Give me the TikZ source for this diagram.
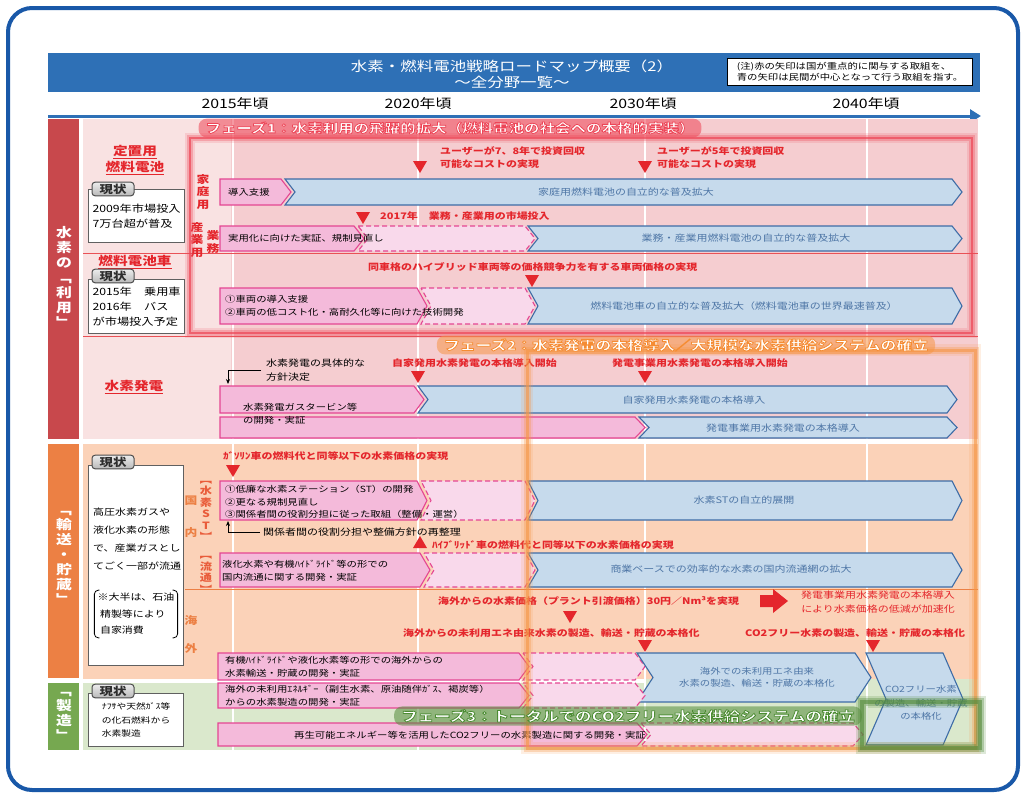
\documentclass[tikz,border=0pt]{standalone}
\usepackage{fontspec}
\setmainfont{Noto Sans CJK JP}[FakeStretch=1.22]
\usetikzlibrary{arrows.meta}

\definecolor{tblue}{RGB}{46,112,182}
\definecolor{fblue}{RGB}{25,88,168}
\definecolor{mred}{RGB}{228,38,44}
\definecolor{useband}{RGB}{200,72,76}
\definecolor{usebg}{RGB}{245,205,208}
\definecolor{uselight}{RGB}{249,226,226}
\definecolor{trband}{RGB}{236,128,68}
\definecolor{trbg}{RGB}{251,210,184}
\definecolor{mfband}{RGB}{118,168,80}
\definecolor{mfbg}{RGB}{218,232,204}
\definecolor{pkfill}{RGB}{244,186,218}
\definecolor{pkline}{RGB}{228,70,146}
\definecolor{blfill}{RGB}{198,218,236}
\definecolor{blline}{RGB}{62,108,166}
\definecolor{bltext}{RGB}{78,118,166}
\definecolor{phred}{RGB}{238,70,86}
\definecolor{phorange}{RGB}{246,150,70}
\definecolor{phgreen}{RGB}{84,140,60}

% chevron bars: [depth] style, x left, x tip, y top, y bottom
\newcommand{\chev}[6][10]{\draw[#2] (#3,#5) -- ({#4-#1},#5) -- (#4,{(#5+#6)/2}) -- ({#4-#1},#6) -- (#3,#6) -- ({#3+#1},{(#5+#6)/2}) -- cycle;}
\newcommand{\chevflat}[5]{\draw[#1] (#2,#4) -- ({#3-10},#4) -- (#3,{(#4+#5)/2}) -- ({#3-10},#5) -- (#2,#5) -- cycle;}
\newcommand{\downmark}[2]{\fill[mred] ({#1-7},{#2-6}) -- ({#1+7},{#2-6}) -- (#1,{#2+6}) -- cycle;}
\newcommand{\upmark}[2]{\fill[mred] ({#1-7},{#2+6}) -- ({#1+7},{#2+6}) -- (#1,{#2-6}) -- cycle;}
% white letters with a coloured rim (stroke colour of the emboldened text)
\newcommand{\rimtext}[2]{\addfontfeature{FakeBold=6}\special{pdf:literal direct #1 RG}#2}

\begin{document}
\begin{tikzpicture}[x=1pt, y=-1pt,
    secband/.style={inner sep=0pt, text=white, align=center, font=\bfseries\fontsize{13}{15}\selectfont},
    pinkbar/.style={draw=pkline, fill=pkfill, line width=1.1pt},
    pinkdash/.style={draw=pkline, fill=pkfill!55, line width=1.1pt, dash pattern=on 5pt off 3pt},
    bluebar/.style={draw=blline, fill=blfill, line width=1.1pt},
    pinktext/.style={inner sep=0pt, anchor=west, align=left, font=\fontsize{8.5}{13}\selectfont},
    bluetext/.style={inner sep=0pt, text=bltext, align=center, font=\fontsize{9}{13}\selectfont},
    redlabel/.style={inner sep=0pt, text=mred, anchor=west, align=left, font=\bfseries\fontsize{9}{13}\selectfont},
    statusbox/.style={draw=gray!75!black, fill=white, line width=1.2pt, anchor=north west, minimum width=95pt, inner sep=4pt, align=left},
    statustab/.style={draw=gray!60!black, top color=gray!15, bottom color=gray!55, rounded corners=3pt, line width=1pt, inner sep=1.5pt, minimum width=42pt, text=gray!35!black, font=\bfseries\fontsize{11}{12}\selectfont},
    toplabel/.style={inner sep=0pt, text=mred, align=center, font=\bfseries\fontsize{12}{16}\selectfont},
    vlabel/.style={inner sep=0pt, text=mred, align=center, font=\bfseries\fontsize{10.5}{12.5}\selectfont},
    phasetitle/.style={fill=#1, fill opacity=0.55, text opacity=1, rounded corners=8pt, inner xsep=7pt, inner ysep=3pt, text=white, font=\bfseries\fontsize{12.7}{15}\selectfont},
    arrow/.style={-{Stealth[length=5pt,width=4pt]}, line width=0.7pt}
    ]
    \useasboundingbox (0,0) rectangle (1026,798);
    \draw[fblue, line width=4pt, rounded corners=24pt] (8,8) rectangle (1018,790);

    %Title
    \fill[tblue] (48,53) rectangle (980,92);
    \node[inner sep=0pt, text=white, align=center, font=\fontsize{13.5}{16}\selectfont] (mainTitle) at (512,74) {水素・燃料電池戦略ロードマップ概要（2）\\～全分野一覧～};
    \node[draw=black, fill=white, minimum width=245pt, minimum height=27pt, inner sep=2pt, align=left, font=\fontsize{8.5}{10.5}\selectfont] (noteBox) at (850,72) {(注)赤の矢印は国が重点的に関与する取組を、\\青の矢印は民間が中心となって行う取組を指す。};
    \node[font=\fontsize{13}{15}\selectfont] (yearA) at (235,104) {2015年頃};
    \node[font=\fontsize{13}{15}\selectfont] (yearB) at (418,104) {2020年頃};
    \node[font=\fontsize{13}{15}\selectfont] (yearC) at (643,104) {2030年頃};
    \node[font=\fontsize{13}{15}\selectfont] (yearD) at (866,104) {2040年頃};
    \coordinate (axisStart) at (48,116);
    \coordinate (axisEnd) at (981,116);
    \draw[tblue, line width=3pt, -{Triangle[length=11pt,width=13pt]}] (axisStart) -- (axisEnd);

    %Sections
    \fill[useband] (48,119) rectangle (79,439);
    \fill[usebg] (83,119) rectangle (978,439);
    \fill[uselight] (83,119) rectangle (231,439);
    \fill[trband] (48,444) rectangle (79,678);
    \fill[trbg] (83,444) rectangle (978,679);
    \fill[mfband] (48,683) rectangle (79,750);
    \fill[mfbg] (83,683) rectangle (978,750);
    \fill[mfbg] (645,679) rectangle (978,683);
    \foreach \x in {233,418,645,867}
        \draw[white, line width=2.5pt] (\x,119) -- (\x,750);
    \draw[mred!80, line width=0.7pt] (83,253) -- (978,253);
    \draw[mred!80, line width=0.7pt] (83,336) -- (978,336);
    \draw[trband, line width=0.8pt] (185,589) -- (978,589);

    \node[secband] (useLabel) at (64,277) {水\\素\\の\\﹁\\利\\用\\﹂};
    \node[secband] (moveLabel) at (64,558) {﹁\\輸\\送\\・\\貯\\蔵\\﹂};
    \node[secband] (makeLabel) at (64,716) {﹁\\製\\造\\﹂};

    %Status boxes
    \node[toplabel] (stationaryLabel) at (135,160) {\underline{定置用}\\\underline{燃料電池}};
    \node[statusbox, minimum height=53pt, font=\fontsize{10}{15}\selectfont] (statusA) at (88,189) {2009年市場投入\\7万台超が普及};
    \node[statustab] (tabA) at (113,189) {現状};
    \node[toplabel] (fcvLabel) at (135,262) {\underline{燃料電池車}};
    \node[statusbox, minimum height=54pt, font=\fontsize{10}{15}\selectfont] (statusB) at (88,279) {2015年　乗用車\\2016年　バス\\が市場投入予定};
    \node[statustab] (tabB) at (113,276) {現状};
    \node[toplabel] (powerLabel) at (134,387) {\underline{水素発電}};
    \node[statusbox, minimum height=200pt, text height=130pt, font=\fontsize{9}{18}\selectfont] (statusC) at (88,465) {};
    \node[inner sep=0pt, anchor=west, align=left, font=\fontsize{9}{18}\selectfont] (statusCtext) at (93,539) {高圧水素ガスや\\液化水素の形態\\で、産業ガスとし\\てごく一部が流通};
    \node[inner sep=3pt, align=left, font=\fontsize{9}{16.5}\selectfont] (statusCnote) at (136,614) {※大半は、石油\\\ 精製等により\\\ 自家消費};
    \draw[line width=0.8pt, rounded corners=4pt] ([xshift=5pt]statusCnote.north west) -- (statusCnote.north west) -- (statusCnote.south west) -- ([xshift=5pt]statusCnote.south west);
    \draw[line width=0.8pt, rounded corners=4pt] ([xshift=-5pt]statusCnote.north east) -- (statusCnote.north east) -- (statusCnote.south east) -- ([xshift=-5pt]statusCnote.south east);
    \node[statustab] (tabC) at (113,462) {現状};
    \node[statusbox, minimum height=53pt, inner sep=3pt, font=\fontsize{8}{13.5}\selectfont] (statusD) at (88,693) {ﾅﾌｻや天然ｶﾞｽ等\\の化石燃料から\\水素製造};
    \node[statustab] (tabD) at (113,691) {現状};

    %Row labels
    \node[vlabel] (homeLabel) at (203,192) {家\\庭\\用};
    \node[vlabel] (industryLabel) at (197,240) {産\\業\\用};
    \node[vlabel] (officeLabel) at (213,242) {業\\務};
    \node[vlabel, text=trband] (domA) at (191,501) {国};
    \node[vlabel, text=trband] (domB) at (191,533) {内};
    \node[vlabel, text=trband!60!mred, font=\bfseries\fontsize{10}{11.5}\selectfont] (stLabel) at (206,511) {︻\\水\\素\\S\\T\\︼};
    \node[vlabel, text=trband!60!mred, font=\bfseries\fontsize{10}{11.5}\selectfont] (distLabel) at (206,575) {︻\\流\\通\\︼};
    \node[vlabel, text=trband] (seaA) at (191,621) {海};
    \node[vlabel, text=trband] (seaB) at (191,648) {外};

    %Fuel cells
    \chevflat{pinkbar}{220}{291}{179}{205}
    \chev{bluebar}{285}{962}{179}{205}
    \node[pinktext] (homeSupport) at (228,192) {導入支援};
    \node[bluetext] (homeSpread) at (626,192) {家庭用燃料電池の自立的な普及拡大};
    \downmark{420}{167}
    \downmark{645}{167}
    \node[redlabel] (userEight) at (440,158) {ユーザーが7、8年で投資回収\\可能なコストの実現};
    \node[redlabel] (userFive) at (657,158) {ユーザーが5年で投資回収\\可能なコストの実現};

    \chevflat{pinkbar}{220}{364}{226}{251}
    \chev{pinkdash}{358}{535}{226}{251}
    \chev{bluebar}{528}{962}{226}{251}
    \node[pinktext] (bizDemo) at (228,238) {実用化に向けた実証、規制見直し};
    \node[bluetext] (bizSpread) at (746,238) {業務・産業用燃料電池の自立的な普及拡大};
    \downmark{363}{218}
    \node[redlabel] (bizLaunch) at (380,216) {2017年　業務・産業用の市場投入};

    \node[redlabel] (fcvPrice) at (368,267) {同車格のハイブリッド車両等の価格競争力を有する車両価格の実現};
    \downmark{532}{281}
    \chevflat{pinkbar}{220}{427}{288}{324}
    \chev{pinkdash}{421}{535}{288}{324}
    \chev{bluebar}{528}{962}{288}{324}
    \node[pinktext] (fcvDev) at (225,306) {①車両の導入支援\\②車両の低コスト化・高耐久化等に向けた技術開発};
    \node[bluetext] (fcvSpread) at (744,306) {燃料電池車の自立的な普及拡大（燃料電池車の世界最速普及）};

    %Power generation
    \node[pinktext, font=\fontsize{9}{14}\selectfont] (powerPolicy) at (266,370) {水素発電の具体的な\\方針決定};
    \coordinate (policyTip) at (228,384);
    \draw[arrow] ([xshift=-5pt]powerPolicy.west) -| (policyTip);
    \node[redlabel] (selfPower) at (392,363) {自家発用水素発電の本格導入開始};
    \downmark{418}{377}
    \node[redlabel] (bizPower) at (612,363) {発電事業用水素発電の本格導入開始};
    \downmark{645}{377}
    \chevflat{pinkbar}{220}{424}{386}{413}
    \chev{bluebar}{418}{957}{386}{413}
    \chevflat{pinkbar}{220}{645}{417}{438}
    \chev{bluebar}{639}{957}{417}{438}
    \node[pinktext] (gasTurbine) at (243,414) {水素発電ガスタービン等\\の開発・実証};
    \node[bluetext] (selfPowerSpread) at (694,400) {自家発用水素発電の本格導入};
    \node[bluetext] (bizPowerSpread) at (783,428) {発電事業用水素発電の本格導入};

    %Transport and storage
    \node[redlabel] (gasPrice) at (223,456) {ｶﾞｿﾘﾝ車の燃料代と同等以下の水素価格の実現};
    \downmark{233}{471}
    \chevflat{pinkbar}{220}{427}{481}{520}
    \chev{pinkdash}{421}{535}{481}{520}
    \chev{bluebar}{528}{962}{481}{520}
    \node[pinktext, font=\fontsize{8.5}{12.5}\selectfont] (stDev) at (225,502) {①低廉な水素ステーション（ST）の開発\\②更なる規制見直し\\③関係者間の役割分担に従った取組（整備・運営）};
    \node[bluetext] (stSpread) at (744,500) {水素STの自立的展開};
    \node[pinktext, font=\fontsize{9}{13}\selectfont] (roleNote) at (263,532) {関係者間の役割分担や整備方針の再整理};
    \coordinate (roleTip) at (228,521);
    \draw[arrow] ([xshift=-3pt]roleNote.west) -| (roleTip);
    \upmark{420}{542}
    \node[redlabel] (hybridPrice) at (432,545) {ﾊｲﾌﾞﾘｯﾄﾞ車の燃料代と同等以下の水素価格の実現};
    \chevflat{pinkbar}{220}{430}{553}{587}
    \chev{pinkdash}{424}{535}{553}{587}
    \chev{bluebar}{528}{962}{553}{587}
    \node[pinktext] (distDev) at (222,571) {液化水素や有機ﾊｲﾄﾞﾗｲﾄﾞ等の形での\\国内流通に関する開発・実証};
    \node[bluetext] (distSpread) at (731,569) {商業ベースでの効率的な水素の国内流通網の拡大};

    \node[redlabel] (importPrice) at (438,601) {海外からの水素価格（プラント引渡価格）30円／Nm³を実現};
    \fill[mred] (760,595) -- (773,595) -- (773,589) -- (788,601) -- (773,613) -- (773,607) -- (760,607) -- cycle;
    \node[redlabel, font=\fontsize{9}{13.5}\selectfont, align=center, anchor=center] (powerEffect) at (878,602) {発電事業用水素発電の本格導入\\により水素価格の低減が加速化};
    \downmark{570}{617}
    \node[redlabel] (importScale) at (403,633) {海外からの未利用エネ由来水素の製造、輸送・貯蔵の本格化};
    \node[redlabel] (co2Scale) at (745,633) {CO2フリー水素の製造、輸送・貯蔵の本格化};
    \downmark{645}{646}
    \downmark{873}{646}

    \chevflat{pinkbar}{218}{529}{653}{680}
    \chev{pinkdash}{523}{645}{653}{680}
    \chev[16]{bluebar}{637}{871}{653}{702}
    \node[pinktext] (seaDev) at (225,667) {有機ﾊｲﾄﾞﾗｲﾄﾞや液化水素等の形での海外からの\\水素輸送・貯蔵の開発・実証};
    \node[bluetext, font=\fontsize{8.5}{12}\selectfont] (seaScale) at (757,677) {海外での未利用エネ由来\\水素の製造、輸送・貯蔵の本格化};

    %Production
    \chevflat{pinkbar}{218}{529}{683}{708}
    \chev{pinkdash}{523}{645}{683}{708}
    \node[pinktext] (unusedDev) at (225,696) {海外の未利用ｴﾈﾙｷﾞｰ（副生水素、原油随伴ｶﾞｽ、褐炭等）\\からの水素製造の開発・実証};
    \chevflat{pinkbar}{218}{647}{723}{746}
    \chev{pinkdash}{641}{863}{723}{746}
    \node[pinktext, anchor=center] (renewDev) at (470,735) {再生可能エネルギー等を活用したCO2フリーの水素製造に関する開発・実証};
    \chev[20]{bluebar}{866}{963}{653}{745}
    \node[bluetext, font=\fontsize{8.5}{13.5}\selectfont] (co2Final) at (921,703) {CO2フリー水素\\の製造、輸送・貯蔵\\の本格化};

    %Phases
    \foreach \w/\o in {10/0.15, 6/0.3, 2.5/0.7}
        \draw[phred, line width=\w pt, opacity=\o] (190,138) rectangle (972,333);
    \foreach \w/\o in {12/0.15, 7/0.3, 3/0.6}
        \draw[phorange, line width=\w pt, opacity=\o] (527,350) rectangle (975,748);
    \foreach \w/\o in {12/0.2, 8/0.35, 4/0.6}
        \draw[phgreen, line width=\w pt, opacity=\o] (862,702) rectangle (980,748);
    \node[phasetitle=phred] (phaseOne) at (450,128) {\rimtext{0.93 0.27 0.34}{フェーズ1：水素利用の飛躍的拡大（燃料電池の社会への本格的実装）}};
    \node[phasetitle=phorange, font=\bfseries\fontsize{13}{15}\selectfont] (phaseTwo) at (686,345) {\rimtext{0.96 0.55 0.2}{フェーズ2：水素発電の本格導入／大規模な水素供給システムの確立}};
    \node[phasetitle=phgreen, font=\bfseries\fontsize{13.5}{15}\selectfont] (phaseThree) at (628,716) {\rimtext{0.3 0.55 0.2}{フェーズ3：トータルでのCO2フリー水素供給システムの確立}};
\end{tikzpicture}
\end{document}
